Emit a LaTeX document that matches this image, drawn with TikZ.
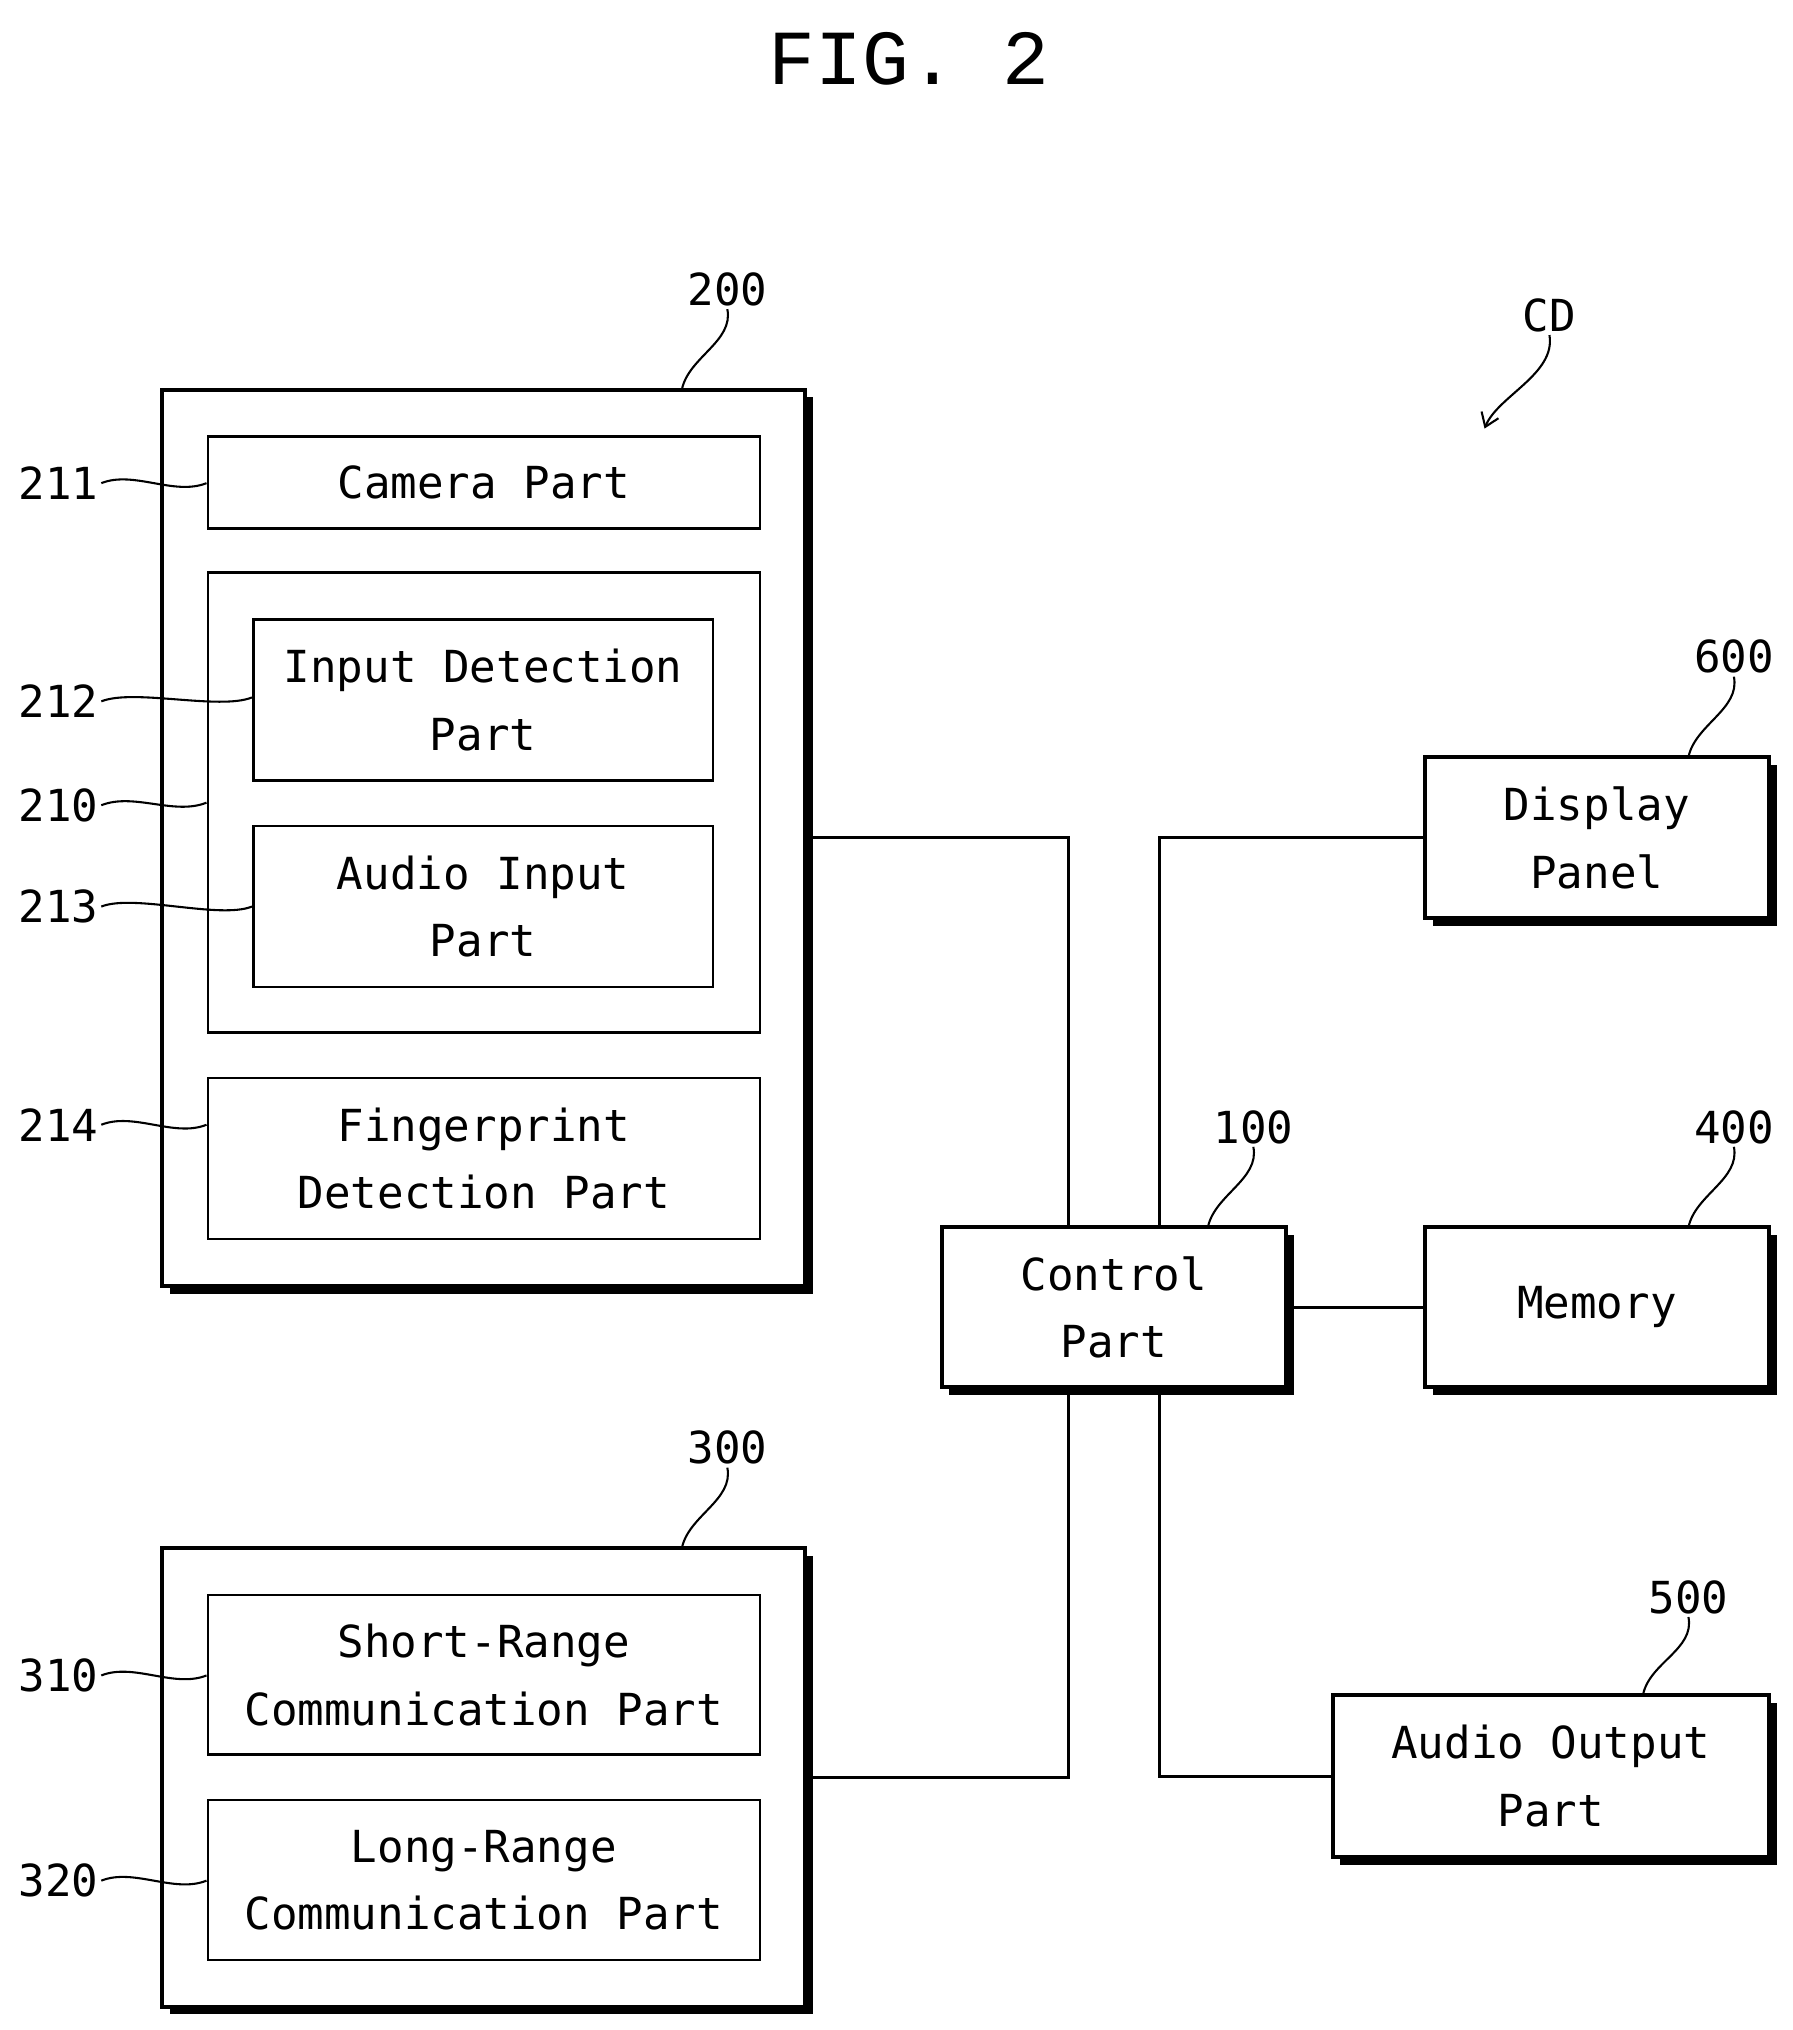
\documentclass[tikz,border=0pt]{standalone}
\usepackage{fontspec}
\setmonofont{DejaVu Sans Mono}
\newfontfamily\titlefont{Liberation Mono}
\usetikzlibrary{shadows,arrows.meta}
\begin{document}
\begin{tikzpicture}[x=0.5pt,y=-0.5pt,
 box/.style={draw,line width=1pt,fill=white,inner sep=0pt,align=center,font=\ttfamily\fontsize{17}{26}\selectfont},
 obox/.style={box,line width=1.5pt,drop shadow={shadow xshift=3pt,shadow yshift=-3pt,fill=black,opacity=1}},
 num/.style={font=\ttfamily\fontsize{17}{20}\selectfont,inner sep=1pt},
 lead/.style={line width=0.8pt}]
\useasboundingbox (0,0) rectangle (1380,1563);
\node[font=\titlefont\fontsize{30}{30}\selectfont] (title) at (700,45) {FIG. 2};
% outer boxes
\node[obox,minimum width=247.5pt,minimum height=345pt] (b200) at (372.5,645) {};
\node[obox,minimum width=247.5pt,minimum height=176.5pt] (b300) at (372.5,1368.5) {};
\node[box,minimum width=212.5pt,minimum height=35.5pt] (b211) at (372.5,371.5) {Camera Part};
\node[box,minimum width=212.5pt,minimum height=177pt] (b210) at (372.5,618) {};
\node[box,minimum width=177pt,minimum height=62pt] (b212) at (372,539) {Input Detection\\Part};
\node[box,minimum width=177pt,minimum height=62pt] (b213) at (372,698) {Audio Input\\Part};
\node[box,minimum width=212.5pt,minimum height=62pt] (b214) at (372.5,892) {Fingerprint\\Detection Part};
\node[box,minimum width=212.5pt,minimum height=61.5pt] (b310) at (372.5,1289.5) {Short-Range\\Communication Part};
\node[box,minimum width=212.5pt,minimum height=61.5pt] (b320) at (372.5,1447.5) {Long-Range\\Communication Part};
\node[obox,minimum width=132.5pt,minimum height=61.5pt] (b100) at (857.5,1006.5) {Control\\Part};
\node[obox,minimum width=132.5pt,minimum height=62pt] (b600) at (1229.5,645) {Display\\Panel};
\node[obox,minimum width=132.5pt,minimum height=61.5pt] (b400) at (1229.5,1006.5) {Memory};
\node[obox,minimum width=168pt,minimum height=62.5pt] (b500) at (1194,1367.5) {Audio Output\\Part};
% connectors
\coordinate (ct1) at (823,945); \coordinate (cb1) at (823,1068);
\coordinate (ct2) at (893,945); \coordinate (cb2) at (893,1068);
\begin{scope}[line width=1.2pt]
\draw (b200.east) -| (ct1);
\draw (cb1) |- (b300.east);
\draw (b600.west) -| (ct2);
\draw (cb2) |- (b500.west);
\draw (b100.east) -- (b400.west);
\end{scope}
% left labels
\foreach \n/\y/\t in {211/372/b211,212/540/b212,210/620/b210,213/698/b213,214/866/b214,310/1290/b310,320/1448/b320}{
  \node[num,anchor=east] (l\n) at (78,\y) {\n};
}
\draw[lead] (l211.east) .. controls +(25,-10) and +(-25,10) .. (b211.west |- 0,372);
\draw[lead] (l212.east) .. controls +(25,-10) and +(-25,10) .. (b212.west |- 0,537);
\draw[lead] (l210.east) .. controls +(25,-10) and +(-25,10) .. (b210.west |- 0,618);
\draw[lead] (l213.east) .. controls +(25,-10) and +(-25,10) .. (b213.west |- 0,698);
\draw[lead] (l214.east) .. controls +(25,-10) and +(-25,10) .. (b214.west |- 0,866);
\draw[lead] (l310.east) .. controls +(25,-10) and +(-25,10) .. (b310.west |- 0,1290);
\draw[lead] (l320.east) .. controls +(25,-10) and +(-25,10) .. (b320.west |- 0,1448);
% top labels
\node[num,anchor=south] (l200) at (560,238) {200};
\node[num,anchor=south] (l300) at (560,1130) {300};
\node[num,anchor=south] (l100) at (965,883) {100};
\node[num,anchor=south] (l600) at (1335,521) {600};
\node[num,anchor=south] (l400) at (1335,883) {400};
\node[num,anchor=south] (l500) at (1300,1245) {500};
\node[num,anchor=south] (lcd) at (1193,258) {CD};
\draw[lead] (l200.south) .. controls +(5,25) and +(5,-25) .. (525,300);
\draw[lead] (l300.south) .. controls +(5,25) and +(5,-25) .. (525,1192);
\draw[lead] (l100.south) .. controls +(5,25) and +(5,-25) .. (930,945);
\draw[lead] (l600.south) .. controls +(5,25) and +(5,-25) .. (1300,583);
\draw[lead] (l400.south) .. controls +(5,25) and +(5,-25) .. (1300,945);
\draw[lead] (l500.south) .. controls +(5,25) and +(5,-25) .. (1265,1305);
\coordinate (cdend) at (1143,330);
\draw[lead,-{Straight Barb[length=5pt,width=7pt]}] (lcd.south) .. controls +(5,30) and +(10,-25) .. (cdend);
\end{tikzpicture}
\end{document}
